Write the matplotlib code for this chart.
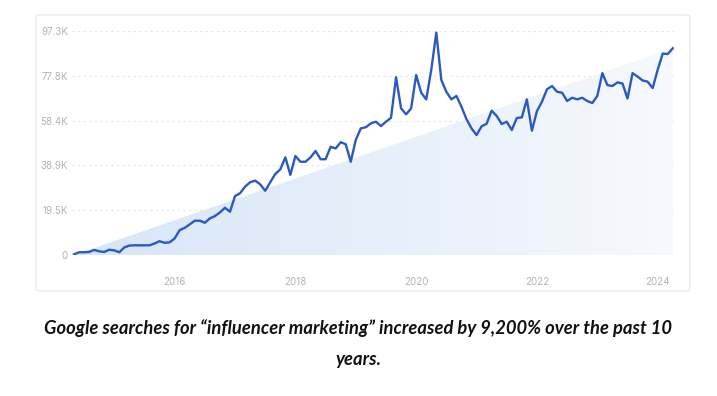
import numpy as np
import pandas as pd
import matplotlib
matplotlib.use("Agg")
import matplotlib.pyplot as plt
from matplotlib.patches import FancyBboxPatch, Polygon

# ---- data (monthly search volume, thousands) ----
start_month = "2014-05"
values_k = [
    0.3, 1.2, 1.2, 1.3, 2.2, 1.6, 1.3, 2.3, 2.0, 1.2,
    3.3, 4.1, 4.2, 4.2, 4.2, 4.2, 5.0, 6.0, 5.3, 5.5,
    7.2, 10.8, 11.8, 13.3, 14.9, 14.9, 14.0, 15.9, 16.9, 18.5,
    20.5, 18.8, 25.6, 26.8, 29.7, 31.6, 32.3, 30.7, 27.9, 31.6,
    35.2, 37.2, 42.4, 34.8, 43.0, 40.5, 40.5, 42.4, 45.2, 41.6,
    41.6, 47.0, 46.3, 49.0, 48.1, 40.5, 50.0, 55.0, 55.5, 57.2,
    57.9, 56.0, 57.9, 59.6, 77.2, 63.7, 61.1, 63.7, 78.2, 70.5,
    67.6, 80.4, 96.6, 76.0, 70.9, 67.6, 69.1, 64.4, 59.0, 55.0,
    52.1, 55.9, 57.0, 62.7, 60.4, 56.9, 57.9, 54.3, 59.5, 59.8,
    67.6, 54.0, 62.5, 66.6, 72.0, 73.4, 70.9, 70.5, 66.9, 68.3,
    67.6, 68.3, 66.9, 66.0, 69.1, 79.0, 73.8, 73.4, 75.0, 74.5,
    68.0, 79.0, 77.5, 75.8, 75.3, 72.5, 80.5, 87.5, 87.3, 89.8,
]
y_ticks = [0, 19.5, 38.9, 58.4, 77.8, 97.3]
y_tick_labels = ["0", "19.5K", "38.9K", "58.4K", "77.8K", "97.3K"]
x_ticks = [2016, 2018, 2020, 2022, 2024]
x_tick_labels = ["2016", "2018", "2020", "2022", "2024"]
caption_lines = ["Google searches for \u201cinfluencer marketing\u201d increased by 9,200% over the past 10",
                 "years."]

dates = pd.date_range(start_month, periods=len(values_k), freq="MS")
x = dates.year + (dates.month - 1) / 12.0
y = np.array(values_k)

W, H = 717, 396
fig = plt.figure(figsize=(W / 100, H / 100), dpi=100)
fig.patch.set_facecolor("white")

# card frame
card = FancyBboxPatch((36 / W, 1 - 291 / H), (690 - 36) / W, (291 - 15) / H,
                      boxstyle="round,pad=0,rounding_size=0.006",
                      transform=fig.transFigure, facecolor="none",
                      edgecolor="#e4e8ee", linewidth=0.9, zorder=0)
fig.patches.append(card)

ax = fig.add_axes([72 / W, 1 - 255 / H, (674 - 72) / W, (255 - 31) / H])
ax.set_zorder(2)
ax.set_facecolor("none")

# gradient trend triangle
x0, x1 = x[0], x[-1]
tri = Polygon([[x0, 0], [x1, y[-1]], [x1, 0]], closed=True,
              facecolor="none", edgecolor="none")
ax.add_patch(tri)
nx = 300
grad = np.linspace(0, 1, nx)[None, :]
c_left = np.array([0.84, 0.90, 0.97])
c_right = np.array([0.965, 0.975, 0.99])
img = c_left[None, None, :] * (1 - grad[..., None]) + c_right[None, None, :] * grad[..., None]
im = ax.imshow(img, extent=[x0, x1, 0, y[-1]], aspect="auto", origin="lower",
               zorder=1, interpolation="bilinear")
im.set_clip_path(tri)
ax.set_xlim(2014.30, 2024.27)
ax.set_ylim(0, 97.3)

# grid
for t in y_ticks[1:]:
    ax.axhline(t, color="#e3e6ea", lw=0.8, ls=(0, (2, 3)), zorder=0.5)
ax.axhline(0, color="#dfe6f0", lw=0.9, zorder=0.5)

ax.plot(x, y, color="#2c59c0", lw=1.7, zorder=3, solid_joinstyle="round")

for s in ax.spines.values():
    s.set_visible(False)
ax.set_yticks(y_ticks)
ax.set_yticklabels(y_tick_labels)
ax.set_xticks(x_ticks)
ax.set_xticklabels(x_tick_labels)
ax.tick_params(axis="both", length=0, labelsize=7, labelcolor="#b3b3b3")
ax.tick_params(axis="y", pad=3)
ax.tick_params(axis="x", pad=16)
for lab in ax.get_xticklabels() + ax.get_yticklabels():
    lab.set_fontfamily("Inter")

for txt, ypx in zip(caption_lines, [328, 360]):
    fig.text(0.5, 1 - ypx / H, txt, ha="center", va="center",
             fontsize=13.2, fontweight="bold", fontstyle="italic",
             family="Lato", color="#111111")

fig.savefig("out.png", dpi=100)
